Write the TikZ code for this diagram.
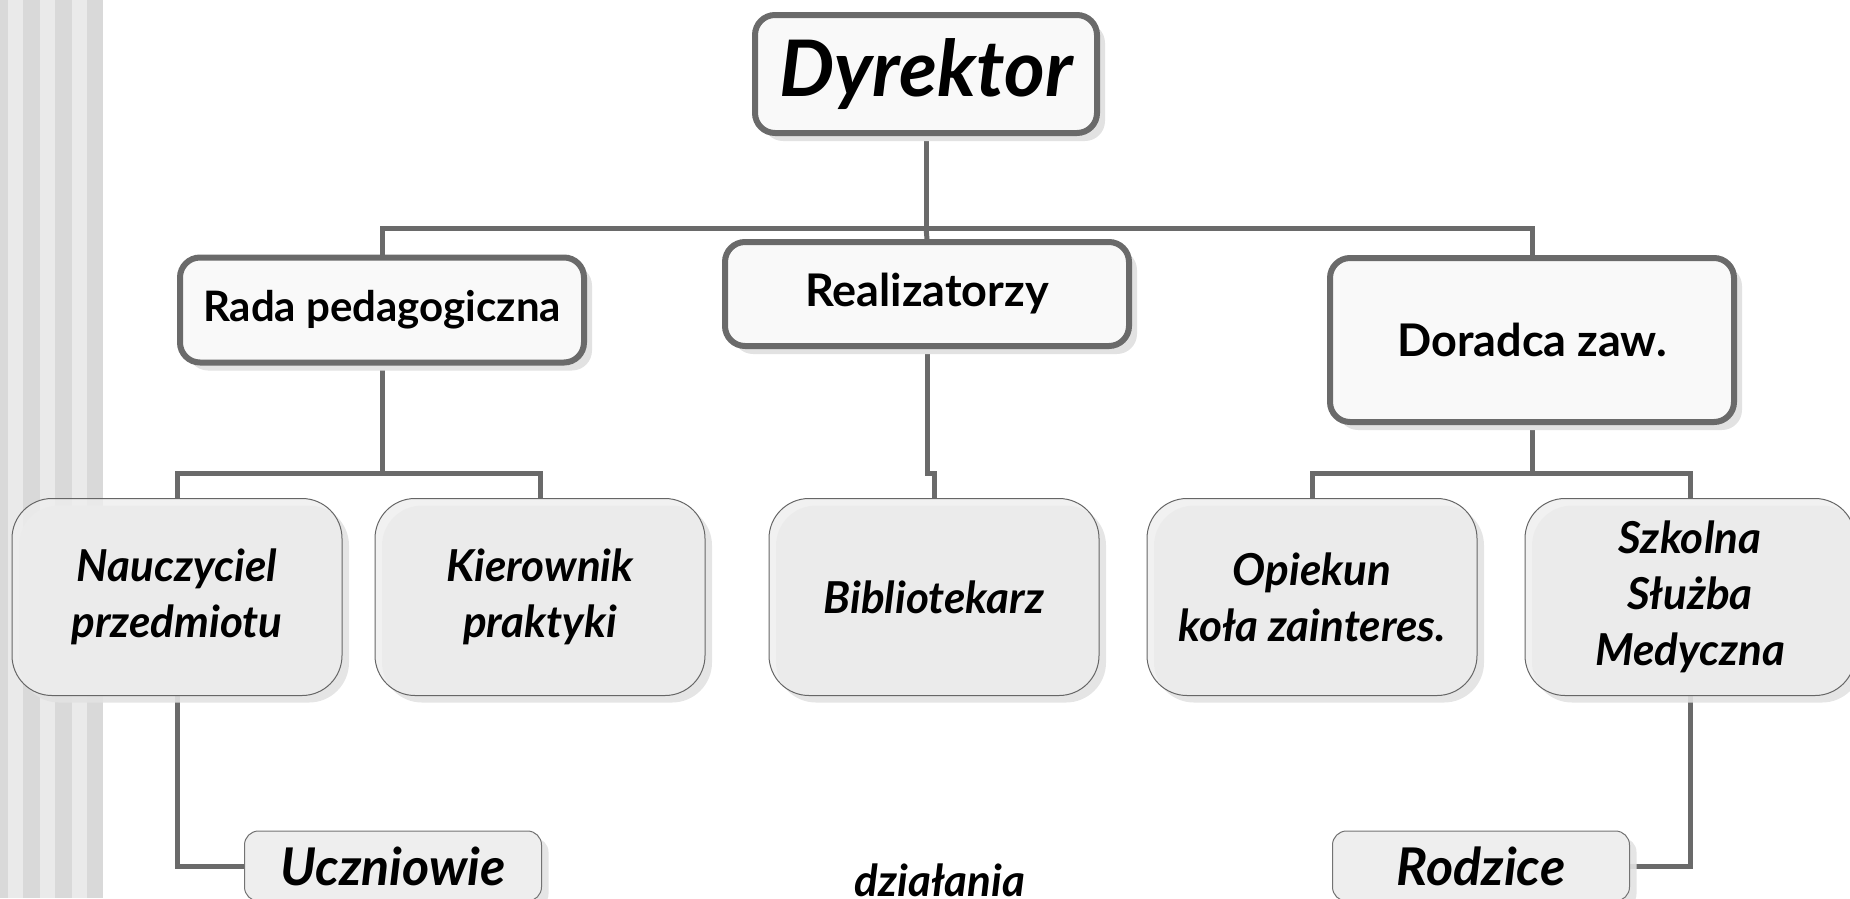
\documentclass[tikz,border=0pt]{standalone}
\usepackage{fontspec}
\setmainfont{Lato}
\usetikzlibrary{shadows,backgrounds}
\definecolor{conncol}{HTML}{6A6A6A}
\definecolor{stripedark}{HTML}{D9D9D9}
\definecolor{stripelight}{HTML}{EAEAEA}
\definecolor{topfill}{HTML}{F9F9F9}
\definecolor{lowfill}{HTML}{EEEEEE}
\definecolor{shadowcol}{HTML}{E2E2E2}
\tikzset{
  conn/.style={draw=conncol, line width=5pt},
  topbox/.style={draw=conncol, line width=6pt, fill=topfill, rounded corners=20pt,
    drop shadow={shadow xshift=8pt, shadow yshift=-8pt, fill=shadowcol, opacity=1},
    font=\fontsize{45}{54}\selectfont\bfseries, inner sep=0pt},
  lowbox/.style={draw=black!60, line width=1pt, fill=lowfill, fill opacity=0.8, text opacity=1,
    rounded corners=40pt, minimum width=330pt, minimum height=197pt,
    drop shadow={shadow xshift=7pt, shadow yshift=-7pt, fill=shadowcol, opacity=0.9},
    font=\fontsize{44}{56}\selectfont\bfseries\itshape, align=center, inner sep=0pt},
  endbox/.style={draw=black!55, line width=1pt, fill=lowfill, rounded corners=14pt,
    minimum width=297pt, minimum height=70pt,
    drop shadow={shadow xshift=7pt, shadow yshift=-7pt, fill=shadowcol, opacity=0.9},
    font=\fontsize{52}{60}\selectfont\bfseries\itshape, inner sep=0pt},
}
\begin{document}
\begin{tikzpicture}[x=1pt,y=-1pt]
\useasboundingbox (0,0) rectangle (1850,898);
\clip (0,0) rectangle (1850,898);

% coordinates for buses
\coordinate (bus) at (926,228);
\coordinate (rbus) at (382,473);
\coordinate (jog) at (927,473);
\coordinate (dbus) at (1532,473);

% boxes
\node[topbox, minimum width=342pt, minimum height=118pt, font=\fontsize{78}{90}\selectfont\bfseries\itshape] (dyr) at (926,74) {Dyrektor};
\node[topbox, minimum width=404pt, minimum height=105pt, font=\fontsize{42}{50}\selectfont\bfseries] (rada) at (382,310) {Rada pedagogiczna};
\node[topbox, minimum width=404pt, minimum height=104pt] (real) at (927,294) {Realizatorzy};
\node[topbox, minimum width=404pt, minimum height=164pt] (dor) at (1532,340) {Doradca zaw.};

\node[lowbox] (nau) at (177,597) {Nauczyciel\\przedmiotu};
\node[lowbox] (kier) at (540,597) {Kierownik\\praktyki};
\node[lowbox] (bib) at (934,597) {Bibliotekarz};
\node[lowbox] (opk) at (1312,597) {Opiekun\\koła zainteres.};
\node[lowbox] (szk) at (1690,597) {Szkolna\\Służba\\Medyczna};

\node[endbox] (ucz) at (393,866) {Uczniowie};
\node[endbox] (rod) at (1481,866) {Rodzice};

\node[font=\fontsize{44}{52}\selectfont\bfseries\itshape, inner sep=0pt] (dzi) at (940,880) {działania};

\begin{pgfonlayer}{background}
% background stripes
\fill[stripedark] (0,0) rectangle (8,898);
\fill[stripelight] (8,0) rectangle (23,898);
\fill[stripedark] (23,0) rectangle (40,898);
\fill[stripelight] (40,0) rectangle (55,898);
\fill[stripedark] (55,0) rectangle (72,898);
\fill[stripelight] (72,0) rectangle (87,898);
\fill[stripedark] (87,0) rectangle (103,898);
% connectors
\draw[conn] (dyr.south) -- (bus);
\draw[conn] (rada.north) |- (bus) -| (dor.north);
\draw[conn] (bus) -- (real.north);
\draw[conn] (rada.south) -- (rbus);
\draw[conn] (nau.north) |- (rbus) -| (kier.north);
\draw[conn] (real.south) -- (jog) -| (bib.north);
\draw[conn] (dor.south) -- (dbus);
\draw[conn] (opk.north) |- (dbus) -| (szk.north);
\draw[conn] (nau.south) |- (ucz.west);
\draw[conn] (szk.south) |- (rod.east);
\end{pgfonlayer}
\end{tikzpicture}
\end{document}
